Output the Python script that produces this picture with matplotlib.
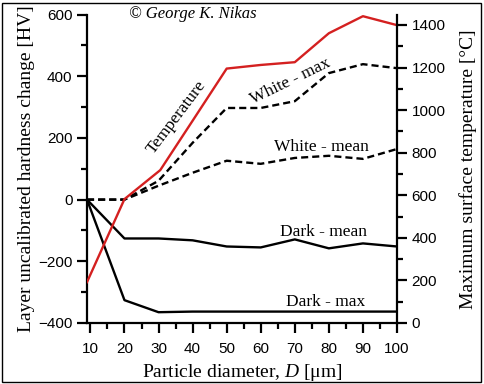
import matplotlib
matplotlib.use("Agg")
import matplotlib.pyplot as plt
from matplotlib.patches import Rectangle
from matplotlib.ticker import MultipleLocator

# ---- data ----
D = [9, 20, 30, 40, 50, 60, 70, 80, 90, 100]
dark_mean = [0, -126, -126, -132, -152, -155, -129, -158, -142, -152]
dark_max = [0, -326, -365, -363, -363, -363, -363, -363, -363, -363]
D_white = [9, 20, 30, 40, 50, 60, 70, 80, 90, 100]
white_max = [0, 0, 61, 184, 297, 297, 319, 410, 439, 426]
white_mean = [0, 0, 45, 87, 126, 116, 135, 142, 132, 164]
D_temp = [9, 20, 30.5, 40, 50, 60, 70, 80, 90, 100]
temperature = [192, 582, 718, 950, 1195, 1212, 1225, 1361, 1441, 1399]

xticks = [10, 20, 30, 40, 50, 60, 70, 80, 90, 100]
left_ticks = [-400, -200, 0, 200, 400, 600]
right_ticks = [0, 200, 400, 600, 800, 1000, 1200, 1400]

plt.rcParams["mathtext.fontset"] = "custom"
plt.rcParams["mathtext.it"] = "Liberation Serif:italic"
plt.rcParams["mathtext.rm"] = "Liberation Serif"

serif = ["Liberation Serif", "DejaVu Serif"]
sans = ["Liberation Sans", "DejaVu Sans"]

fig = plt.figure(figsize=(4.85, 3.84), dpi=100)
ax = fig.add_axes([87/485, 1-323/384, (397-87)/485, (323-14.5)/384])
ax2 = ax.twinx()

lw = 1.7
ax.plot(D, dark_mean, color="black", lw=lw)
ax.plot(D, dark_max, color="black", lw=lw)
ax.plot(D_white, white_max, color="black", lw=lw, ls=(0, (3.0, 1.7)))
ax.plot(D_white, white_mean, color="black", lw=lw, ls=(0, (3.0, 1.7)))
ax2.plot(D_temp, temperature, color="#d42020", lw=lw)

ax.set_xlim(9, 100)
ax.set_ylim(-400, 600)
ax2.set_ylim(0, 1449)

ax.set_xticks(xticks)
ax.set_yticks(left_ticks)
ax2.set_yticks(right_ticks)
ax.xaxis.set_minor_locator(MultipleLocator(5))
ax.yaxis.set_minor_locator(MultipleLocator(100))
ax2.yaxis.set_minor_locator(MultipleLocator(100))

for a in (ax, ax2):
    for s in a.spines.values():
        s.set_linewidth(1.6)
    a.spines["top"].set_visible(False)
ax.spines["right"].set_visible(False)
ax2.spines["left"].set_visible(False)
ax2.spines["bottom"].set_visible(False)

ax.tick_params(axis="y", which="major", direction="out", length=7.5, width=1.6,
               labelsize=11, pad=3)
ax.tick_params(axis="x", which="major", direction="out", length=7, width=1.6,
               labelsize=11, pad=7)
ax.tick_params(axis="both", which="minor", direction="out", length=4, width=1.6)
ax2.tick_params(axis="y", which="major", direction="out", length=7.5, width=1.6,
                labelsize=11, pad=3)
ax2.tick_params(axis="y", which="minor", direction="out", length=4, width=1.6)
for lab in ax.get_xticklabels() + ax.get_yticklabels() + ax2.get_yticklabels():
    lab.set_family(sans)

ax.set_xlabel("Particle diameter, $D$ [μm]", family=serif, fontsize=14, labelpad=4)
ax.set_ylabel("Layer uncalibrated hardness change [HV]", family=serif, fontsize=14, labelpad=2)
ax2.set_ylabel("Maximum surface temperature [°C]", family=serif, fontsize=14, labelpad=10)

# annotations
fig.text(177/485, 1-117/384, "Temperature", family=serif, fontsize=12.5, rotation=53,
         ha="center", va="center")
fig.text(290/485, 1-81/384, "White - max", family=serif, fontsize=12.5, rotation=26,
         ha="center", va="center")
fig.text(321/485, 1-147/384, "White - mean", family=serif, fontsize=12.5,
         ha="center", va="center")
fig.text(324/485, 1-232/384, "Dark - mean", family=serif, fontsize=12.5,
         ha="center", va="center")
fig.text(326/485, 1-302/384, "Dark - max", family=serif, fontsize=12.5,
         ha="center", va="center")
fig.text(129/485, 1-14/384, "© George K. Nikas", family=serif, style="italic",
         fontsize=12, ha="left", va="center")

fig.patches.append(Rectangle((2/485, 2/384), 479/485, 379/384, transform=fig.transFigure,
                             fill=False, edgecolor="black", lw=1))

fig.savefig("out.png", dpi=100)
